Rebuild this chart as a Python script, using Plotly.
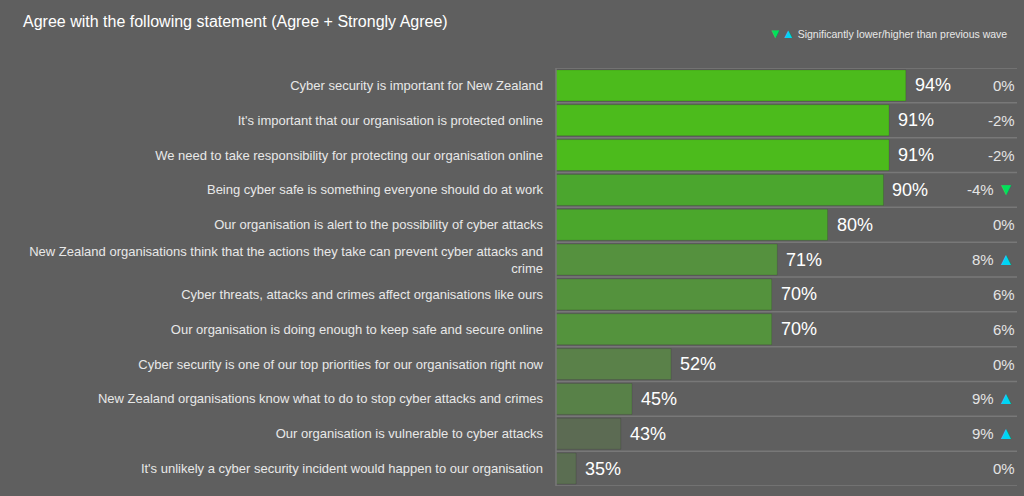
import plotly.graph_objects as go

# statements, top to bottom
statements = [
    "Cyber security is important for New Zealand",
    "It's important that our organisation is protected online",
    "We need to take responsibility for protecting our organisation online",
    "Being cyber safe is something everyone should do at work",
    "Our organisation is alert to the possibility of cyber attacks",
    "New Zealand organisations think that the actions they take can prevent cyber attacks and<br>crime",
    "Cyber threats, attacks and crimes affect organisations like ours",
    "Our organisation is doing enough to keep safe and secure online",
    "Cyber security is one of our top priorities for our organisation right now",
    "New Zealand organisations know what to do to stop cyber attacks and crimes",
    "Our organisation is vulnerable to cyber attacks",
    "It's unlikely a cyber security incident would happen to our organisation",
]
agree = [94, 91, 91, 90, 80, 71, 70, 70, 52, 45, 43, 35]
change = [0, -2, -2, -4, 0, 8, 6, 6, 0, 9, 9, 0]
# '' = not significant, 'down' / 'up' = significant change vs previous wave
signif = ["", "", "", "down", "", "up", "", "", "", "up", "up", ""]

bar_colors = ["#4CBB1C", "#4CBB1C", "#4CBB1C", "#4BA62E", "#4BA72C", "#55913E",
              "#54923D", "#54933D", "#5A8149", "#588148", "#5C6B53", "#5B6E52"]

BG = "#5F5F5F"
DOWN = "#00E35A"
UP = "#00D4F5"

# plot area in pixels, used to place the texts outside it
L, R, T, B = 556, 1017, 68, 486
def px(x):
    return (x - L) / (R - L)
def py(y):
    return (B - y) / (B - T)

fig = go.Figure()
fig.add_trace(go.Bar(
    x=agree,
    y=list(range(len(statements))),
    orientation="h",
    marker=dict(color=bar_colors, line=dict(color="rgba(0,0,0,0.12)", width=1)),
    width=0.89,
    hoverinfo="skip",
))

annotations = []
for i, (v, c, s) in enumerate(zip(agree, change, signif)):
    annotations.append(dict(
        x=v, y=i, xref="x", yref="y", text=f"{v}%", showarrow=False,
        xanchor="left", xshift=7, font=dict(size=18, color="white"),
    ))
    if s == "down":
        txt = f'{c}% <span style="color:{DOWN};font-size:17px">▼</span>'
    elif s == "up":
        txt = f'{c}% <span style="color:{UP};font-size:17px">▲</span>'
    else:
        txt = f"{c}%"
    annotations.append(dict(
        x=1, y=i, xref="paper", yref="y", text=txt, showarrow=False,
        xanchor="right", font=dict(size=15, color="#E4E4E4"),
    ))

annotations.append(dict(
    x=px(21), y=py(22), xref="paper", yref="paper", showarrow=False,
    text="Agree with the following statement (Agree + Strongly Agree)",
    font=dict(size=16, color="white"), xanchor="left", yanchor="middle",
))
annotations.append(dict(
    x=px(1009), y=py(34), xref="paper", yref="paper", showarrow=False,
    text=(f'<span style="color:{DOWN};font-size:13px">▼</span>'
          f'<span style="color:{UP};font-size:13px">▲</span>'
          ' Significantly lower/higher than previous wave'),
    font=dict(size=10.5, color="#E8E8E8"), xanchor="right", yanchor="middle",
))

# row separators and left axis line
shapes = []
for i in range(len(statements) + 1):
    shapes.append(dict(type="line", xref="paper", yref="y", x0=0, x1=1,
                       y0=i - 0.5, y1=i - 0.5,
                       line=dict(color="#787878", width=1.5)))
shapes.append(dict(type="line", xref="paper", yref="paper", x0=0, x1=0,
                   y0=0, y1=1, line=dict(color="#787878", width=1.5)))

fig.update_layout(
    width=1024, height=496,
    paper_bgcolor=BG, plot_bgcolor=BG,
    margin=dict(l=L, r=1024 - R, t=T, b=496 - B),
    font=dict(family="Liberation Sans, Arial, sans-serif", color="#E8E8E8"),
    showlegend=False,
    bargap=0.1,
    xaxis=dict(range=[31.4, 113.9], visible=False, fixedrange=True),
    yaxis=dict(
        range=[len(statements) - 0.5, -0.5],
        tickmode="array",
        tickvals=list(range(len(statements))),
        ticktext=statements,
        tickfont=dict(size=13, color="#E8E8E8"),
        showgrid=False, zeroline=False, ticks="", ticklen=0,
        ticklabelstandoff=12, fixedrange=True,
    ),
    shapes=shapes,
    annotations=annotations,
)

fig.write_html("out.html", config={"displayModeBar": False},
               post_script="document.body.style.margin='0';")
